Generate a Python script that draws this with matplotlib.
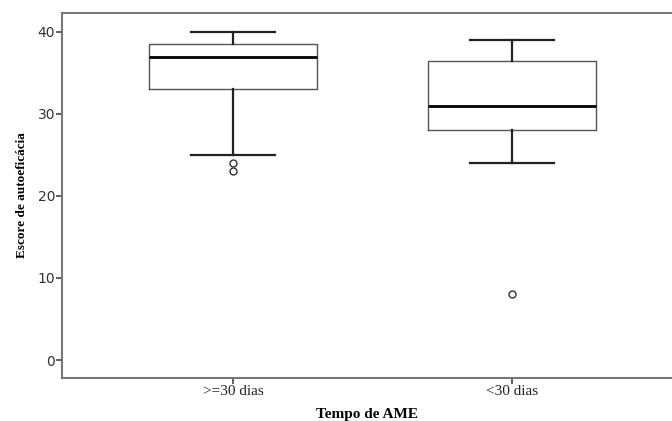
import matplotlib.pyplot as plt

# Boxplot stats
groups = ['>=30 dias', '<30 dias']
whisker_low = [25, 24]
q1 = [33, 28]
median = [37, 31]
q3 = [38.5, 36.5]
whisker_high = [40, 39]
outliers = [[24, 23], [8]]

stats = []
for i in range(len(groups)):
    stats.append({
        'label': groups[i],
        'whislo': whisker_low[i],
        'q1': q1[i],
        'med': median[i],
        'q3': q3[i],
        'whishi': whisker_high[i],
        'fliers': outliers[i],
    })

fig = plt.figure(figsize=(6.72, 4.21), dpi=100)
ax = fig.add_axes([0.0923, 0.102, 0.9077, 0.867])

ax.bxp(stats, positions=[1, 2], widths=0.6, showfliers=True,
       boxprops=dict(color='#555555', linewidth=1.0),
       medianprops=dict(color='black', linewidth=2.0),
       whiskerprops=dict(color='#222222', linewidth=1.6),
       capprops=dict(color='#222222', linewidth=1.6),
       flierprops=dict(marker='o', markerfacecolor='none', markeredgecolor='#333333',
                       markersize=5, markeredgewidth=1.0))

ax.set_xlim(0.387, 2.573)
ax.set_ylim(-2.2, 42.3)
ax.set_yticks([0, 10, 20, 30, 40])
ax.set_xticks([1, 2])
ax.set_xticklabels(groups, family='Liberation Serif', fontsize=11, color='#222222')
for lbl in ax.get_yticklabels():
    lbl.set_fontsize(10)
    lbl.set_color('#333333')

for side in ['left', 'bottom', 'top']:
    ax.spines[side].set_color('#777777')
    ax.spines[side].set_linewidth(1.5)
ax.spines['right'].set_visible(False)
ax.tick_params(length=4, width=1.2, color='#444444', pad=1)

ax.set_ylabel('Escore de autoeficácia', family='Liberation Serif', fontweight='bold', fontsize=9.5, labelpad=7)
ax.set_xlabel('Tempo de AME', family='Liberation Serif', fontweight='bold', fontsize=11, labelpad=7)

fig.savefig('out.png', dpi=100)
